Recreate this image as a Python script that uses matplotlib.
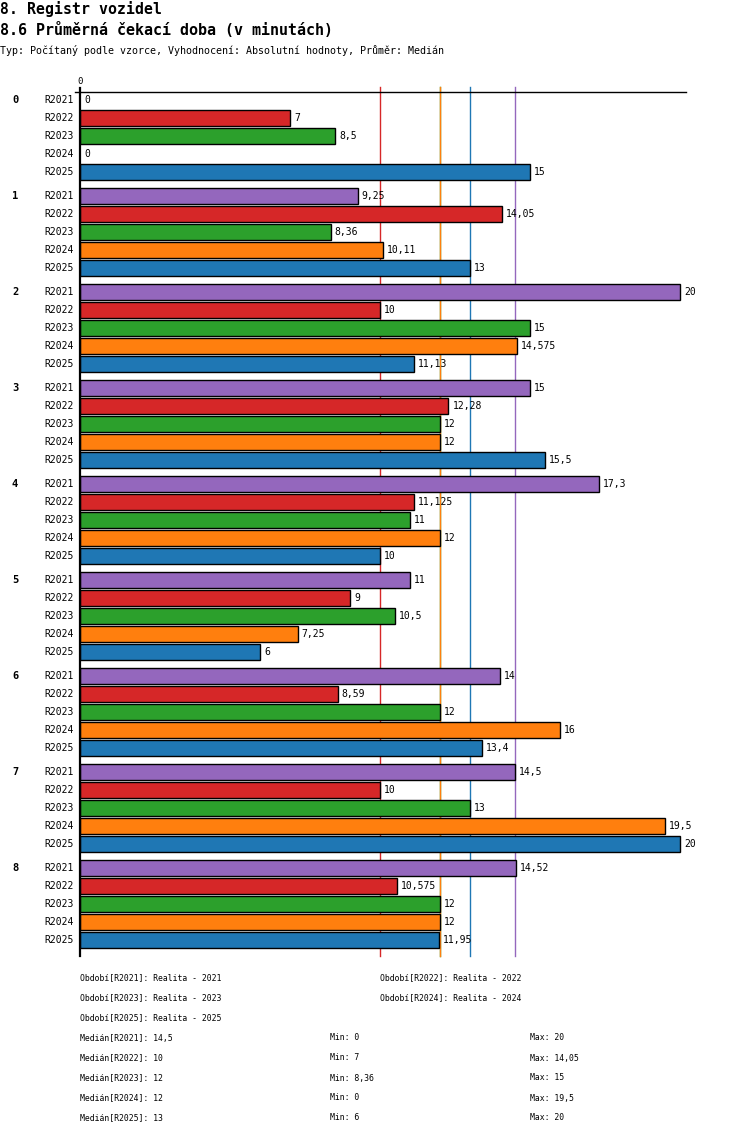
import numpy as np
import matplotlib
matplotlib.use("Agg")
import matplotlib.pyplot as plt

plt.rcParams['font.family'] = ['DejaVu Sans Mono']

skupiny = ["0", "1", "2", "3", "4", "5", "6", "7", "8"]
obdobi = ["R2021", "R2022", "R2023", "R2024", "R2025"]
popisy = ["Realita - 2021", "Realita - 2022", "Realita - 2023", "Realita - 2024", "Realita - 2025"]
barvy = ["#9467bd", "#d62728", "#2ca02c", "#ff7f0e", "#1f77b4"]

r2021 = [0, 9.25, 20, 15, 17.3, 11, 14, 14.5, 14.52]
r2022 = [7, 14.05, 10, 12.28, 11.125, 9, 8.59, 10, 10.575]
r2023 = [8.5, 8.36, 15, 12, 11, 10.5, 12, 13, 12]
r2024 = [0, 10.11, 14.575, 12, 12, 7.25, 16, 19.5, 12]
r2025 = [15, 13, 11.13, 15.5, 10, 6, 13.4, 20, 11.95]
hodnoty = [r2021, r2022, r2023, r2024, r2025]

W, H = 750, 1136
fig = plt.figure(figsize=(W / 100, H / 100), dpi=100)


def ftext(x, y, s, **kw):
    fig.text(x / W, 1 - y / H, s, va='center', **kw)


def cislo(v):
    return f"{v:g}".replace('.', ',')


ax = fig.add_axes([80 / W, (H - 956) / H, 606 / W, 864 / H])
ax.set_xlim(0, 20.2)
ax.set_ylim(864, 0)
ax.axis('off')

# medianove cary (zelena pod oranzovou)
for i in [2, 1, 3, 4, 0]:
    med = np.median(hodnoty[i])
    ax.plot([med, med], [-5, 864], color=barvy[i], lw=1, zorder=1, clip_on=False)

for g in range(len(skupiny)):
    for r in range(len(obdobi)):
        y = g * 96 + r * 18 + 8
        v = hodnoty[r][g]
        if v > 0:
            ax.barh(y, v, height=16, color=barvy[r], edgecolor='black', linewidth=1, zorder=2)
        ax.text(v + 4 / 30, y, cislo(v), va='center', ha='left', fontsize=7, zorder=3)
        ax.text(-6 / 30, y, obdobi[r], va='center', ha='right', fontsize=7)
    ax.text(-68 / 30, g * 96 + 8, skupiny[g], va='center', ha='left', fontsize=7.5, fontweight='bold')

ax.plot([-5 / 30, 20.2], [0, 0], color='black', lw=1, zorder=4, clip_on=False)
ax.plot([0, 0], [-4, 864], color='black', lw=1.6, zorder=4, clip_on=False)
ax.text(0, -11, "0", ha='center', va='center', fontsize=6.5)

ftext(0, 9, "8. Registr vozidel", fontsize=10.7, fontweight='bold')
ftext(0, 30, "8.6 Průměrná čekací doba (v minutách)", fontsize=10.8, fontweight='bold')
ftext(0, 50, "Typ: Počítaný podle vzorce, Vyhodnocení: Absolutní hodnoty, Průměr: Medián", fontsize=7.2)

# legenda
for i in range(len(obdobi)):
    x = 80 if i % 2 == 0 else 380
    y = 978 + (i // 2) * 20
    ftext(x, y, f"Období[{obdobi[i]}]: {popisy[i]}", fontsize=5.9)

for i in range(len(obdobi)):
    y = 1038 + i * 20
    ftext(80, y, f"Medián[{obdobi[i]}]: {cislo(np.median(hodnoty[i]))}", fontsize=5.9)
    ftext(330, y, f"Min: {cislo(min(hodnoty[i]))}", fontsize=5.9)
    ftext(530, y, f"Max: {cislo(max(hodnoty[i]))}", fontsize=5.9)

fig.savefig("out.png", dpi=100)
